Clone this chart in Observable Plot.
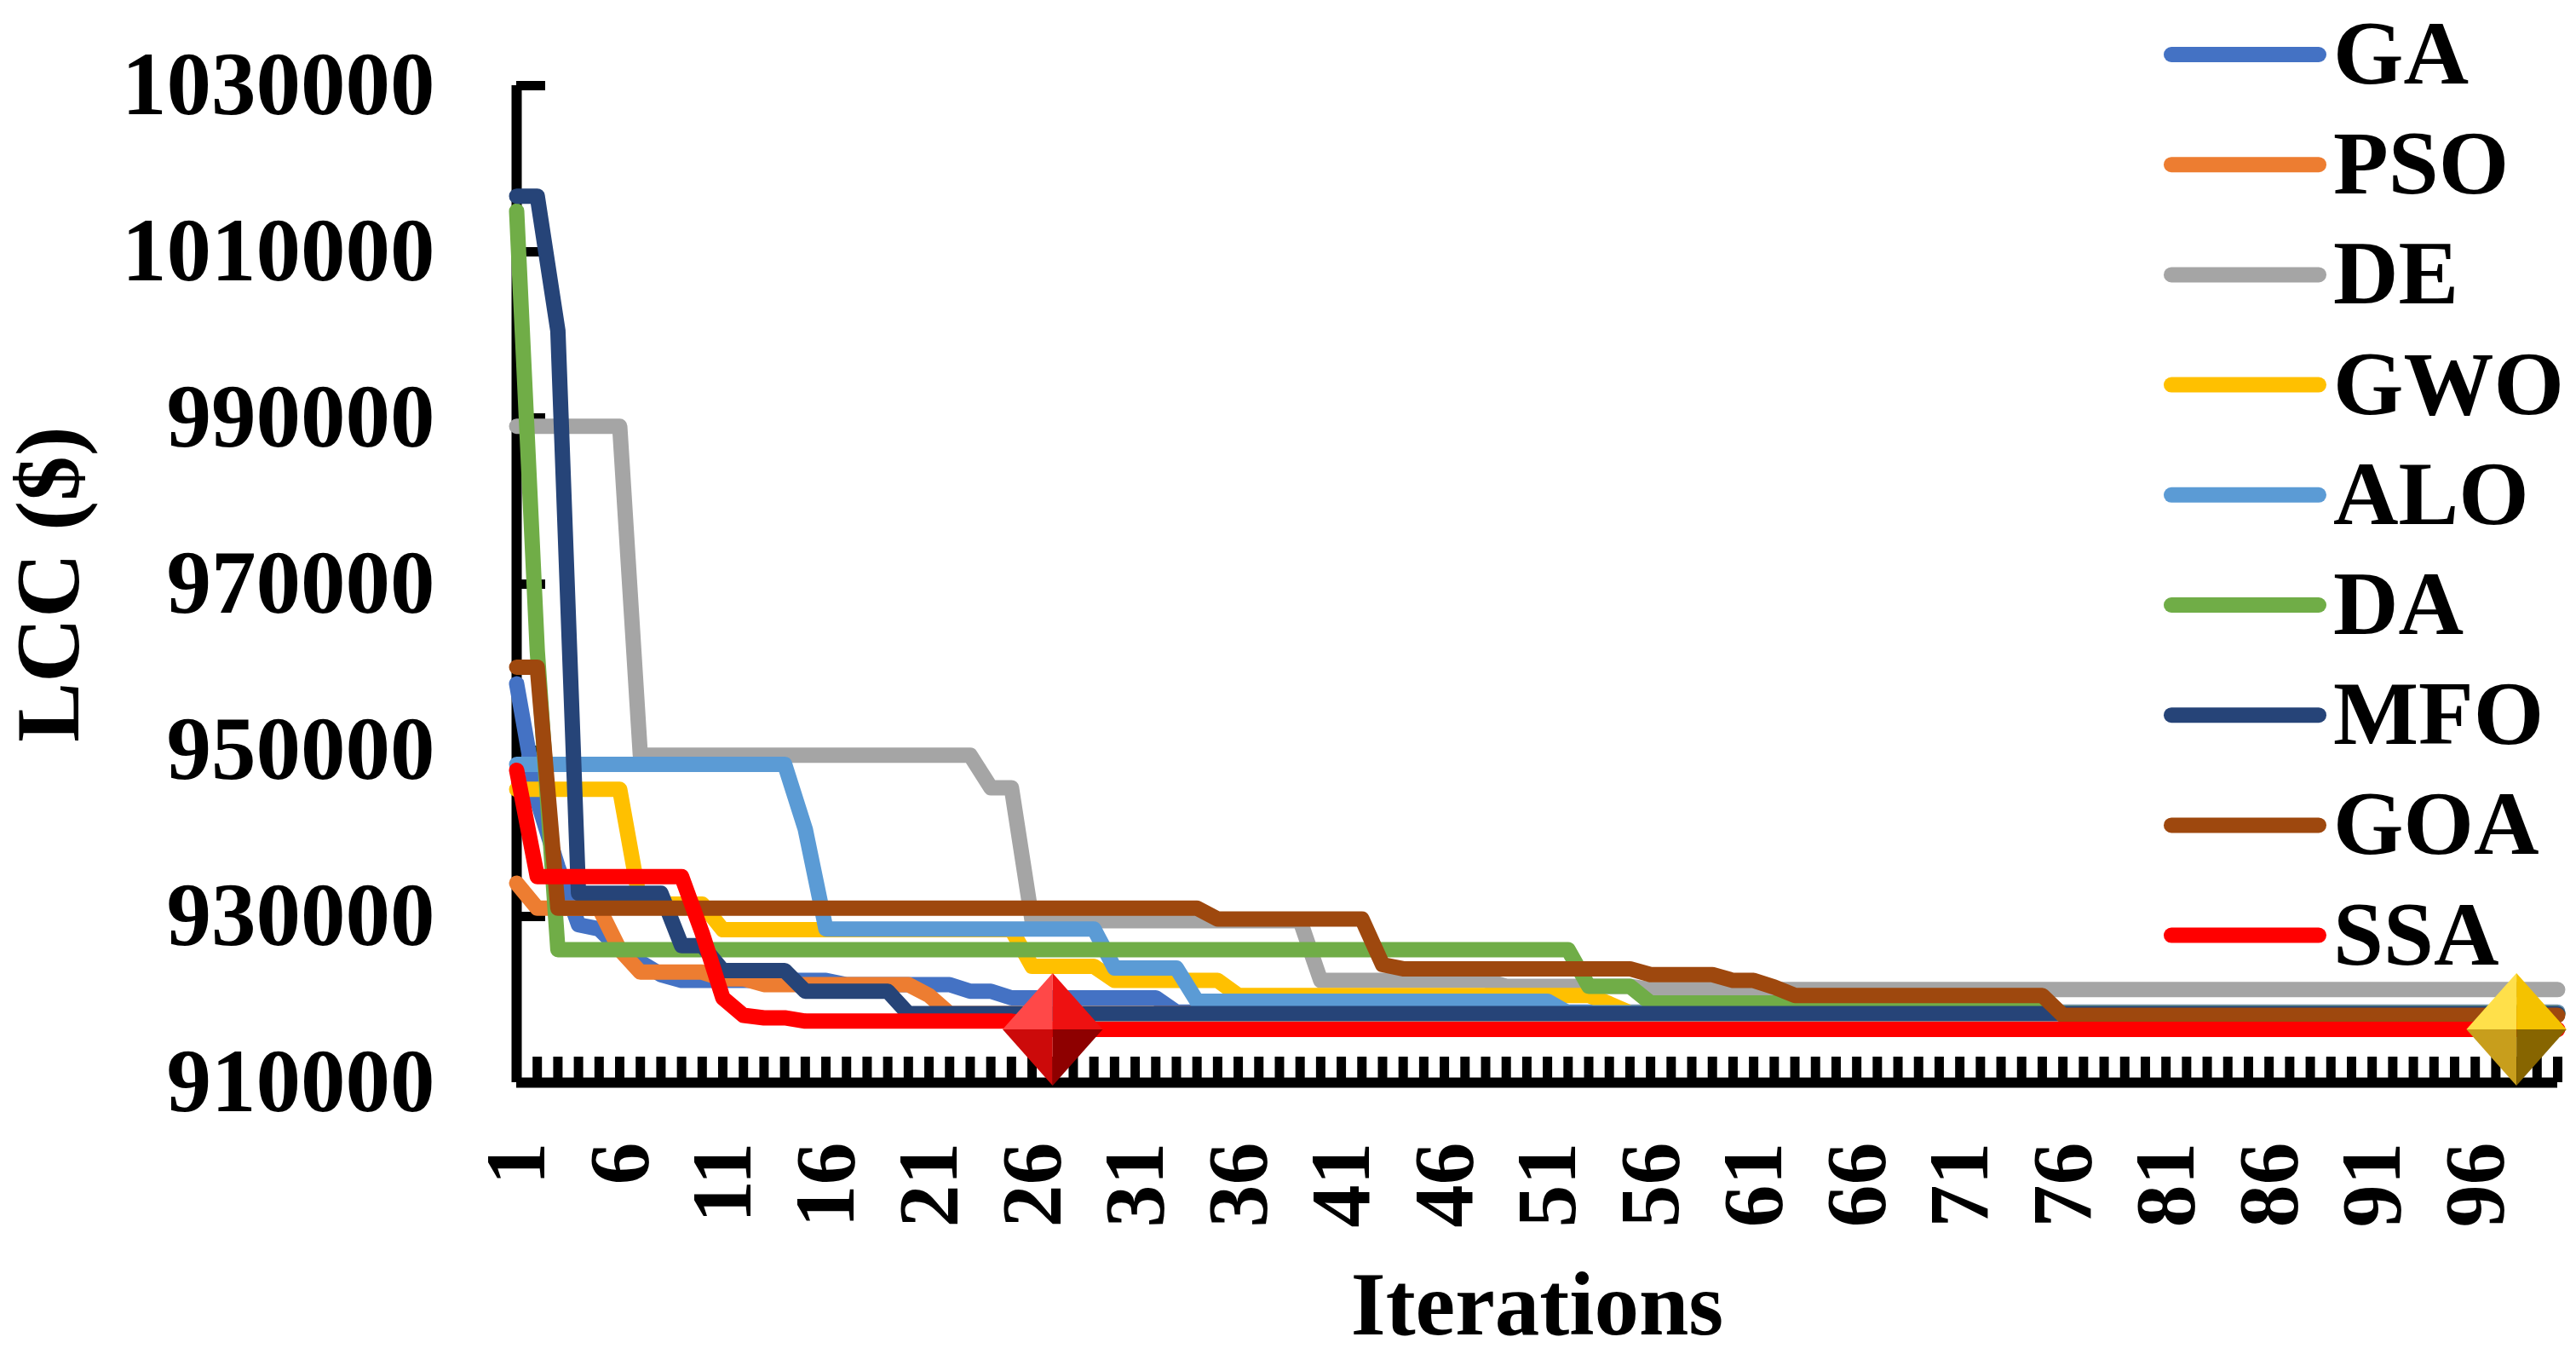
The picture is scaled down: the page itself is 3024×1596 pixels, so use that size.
<!DOCTYPE html>
<html>
<head>
<meta charset="utf-8">
<script src="https://cdn.jsdelivr.net/npm/d3@7"></script>
<script src="https://cdn.jsdelivr.net/npm/@observablehq/plot@0.6"></script>
<style>
html, body { margin: 0; padding: 0; background: #ffffff; }
#chart { position: relative; width: 3024px; height: 1596px; }
</style>
</head>
<body>
<div id="chart"></div>
<script>
// ---------- DATA ----------
const iterations = d3.range(1, 101);
const seriesNames = ["GA", "PSO", "DE", "GWO", "ALO", "DA", "MFO", "GOA", "SSA"];
const seriesColors = ["#4472C4", "#ED7D31", "#A5A5A5", "#FFC000", "#5B9BD5", "#70AD47", "#264478", "#9E480E", "#FF0000"];
const yTicks = [910000, 930000, 950000, 970000, 990000, 1010000, 1030000];
const xTickLabels = [1, 6, 11, 16, 21, 26, 31, 36, 41, 46, 51, 56, 61, 66, 71, 76, 81, 86, 91, 96];

const GA = [
  958000, 944000, 936000, 929000, 928500, 926000, 924500, 923000, 922300, 922300,
  922300, 922300, 922300, 922300, 922300, 922300, 921800, 921800, 921800, 921800,
  921800, 921800, 921000, 921000, 920200, 920200, 920200, 920200, 920200, 920200,
  920200, 920200, 918500, 918500, 918500, 918500, 918500, 918500, 918500, 918500,
  918500, 918500, 918500, 918500, 918500, 918500, 918500, 918500, 918500, 918500,
  918500, 918500, 918500, 918500, 918500, 918500, 918500, 918500, 918500, 918500,
  918500, 918500, 918500, 918500, 918500, 918500, 918500, 918500, 918500, 918500,
  918500, 918500, 918500, 918500, 918500, 918500, 918500, 918500, 918500, 918500,
  918500, 918500, 918500, 918500, 918500, 918500, 918500, 918500, 918500, 918500,
  918500, 918500, 918500, 918500, 918500, 918500, 918500, 918500, 918500, 918500
];
const PSO = [
  934000, 931000, 931000, 931000, 931000, 926000, 923300, 923300, 923300, 923300,
  922500, 922500, 921800, 921800, 921800, 921800, 921800, 921800, 921800, 921800,
  920500, 918300, 918300, 918300, 918300, 918300, 918300, 918300, 918300, 918300,
  918300, 918300, 918300, 918300, 918300, 918300, 918300, 918300, 918300, 918300,
  918300, 918300, 918300, 918300, 918300, 918300, 918300, 918300, 918300, 918300,
  918300, 918300, 918300, 918300, 918300, 918300, 918300, 918300, 918300, 918300,
  918300, 918300, 918300, 918300, 918300, 918300, 918300, 918300, 918300, 918300,
  918300, 918300, 918300, 918300, 918300, 918300, 918300, 918300, 918300, 918300,
  918300, 918300, 918300, 918300, 918300, 918300, 918300, 918300, 918300, 918300,
  918300, 918300, 918300, 918300, 918300, 918300, 918300, 918300, 918300, 918300
];
const DE = [
  989000, 989000, 989000, 989000, 989000, 989000, 949400, 949400, 949400, 949400,
  949400, 949400, 949400, 949400, 949400, 949400, 949400, 949400, 949400, 949400,
  949400, 949400, 949400, 945500, 945500, 929500, 929500, 929500, 929500, 929500,
  929500, 929500, 929500, 929500, 929500, 929500, 929500, 929500, 929500, 922300,
  922300, 922300, 922300, 922300, 922300, 922300, 922300, 922300, 921600, 921600,
  921600, 921600, 921600, 921600, 921600, 921200, 921200, 921200, 921200, 921200,
  921200, 921200, 921200, 921200, 921200, 921200, 921200, 921200, 921200, 921200,
  921200, 921200, 921200, 921200, 921200, 921200, 921200, 921200, 921200, 921200,
  921200, 921200, 921200, 921200, 921200, 921200, 921200, 921200, 921200, 921200,
  921200, 921200, 921200, 921200, 921200, 921200, 921200, 921200, 921200, 921200
];
const GWO = [
  945300, 945300, 945300, 945300, 945300, 945300, 931500, 931500, 931500, 931500,
  928400, 928400, 928400, 928400, 928400, 928400, 928400, 928400, 928400, 928400,
  928400, 928400, 928400, 928400, 928400, 924000, 924000, 924000, 924000, 922300,
  922300, 922300, 922300, 922300, 922300, 920500, 920500, 920500, 920500, 920500,
  920500, 920500, 920500, 920500, 920500, 920500, 920500, 920500, 920500, 920500,
  920500, 920500, 920500, 919500, 918400, 918400, 918400, 918400, 918400, 918400,
  918400, 918400, 918400, 918400, 918400, 918400, 918400, 918400, 918400, 918400,
  918400, 918400, 918400, 918400, 918400, 918400, 918400, 918400, 918400, 918400,
  918400, 918400, 918400, 918400, 918400, 918400, 918400, 918400, 918400, 918400,
  918400, 918400, 918400, 918400, 918400, 918400, 918400, 918400, 918400, 918400
];
const ALO = [
  948300, 948300, 948300, 948300, 948300, 948300, 948300, 948300, 948300, 948300,
  948300, 948300, 948300, 948300, 940500, 928500, 928500, 928500, 928500, 928500,
  928500, 928500, 928500, 928500, 928500, 928500, 928500, 928500, 928500, 923800,
  923800, 923800, 923800, 919800, 919800, 919800, 919800, 919800, 919800, 919800,
  919800, 919800, 919800, 919800, 919800, 919800, 919800, 919800, 919800, 919800,
  919800, 918400, 918400, 918400, 918400, 918400, 918400, 918400, 918400, 918400,
  918400, 918400, 918400, 918400, 918400, 918400, 918400, 918400, 918400, 918400,
  918400, 918400, 918400, 918400, 918400, 918400, 918400, 918400, 918400, 918400,
  918400, 918400, 918400, 918400, 918400, 918400, 918400, 918400, 918400, 918400,
  918400, 918400, 918400, 918400, 918400, 918400, 918400, 918400, 918400, 918400
];
const DA = [
  1014900, 962000, 926000, 926000, 926000, 926000, 926000, 926000, 926000, 926000,
  926000, 926000, 926000, 926000, 926000, 926000, 926000, 926000, 926000, 926000,
  926000, 926000, 926000, 926000, 926000, 926000, 926000, 926000, 926000, 926000,
  926000, 926000, 926000, 926000, 926000, 926000, 926000, 926000, 926000, 926000,
  926000, 926000, 926000, 926000, 926000, 926000, 926000, 926000, 926000, 926000,
  926000, 926000, 921600, 921600, 921600, 919600, 919600, 919600, 919600, 919600,
  919600, 919600, 919600, 919600, 919600, 919600, 919600, 919600, 919600, 919600,
  919600, 919600, 919600, 919600, 919600, 918300, 918300, 918300, 918300, 918300,
  918300, 918300, 918300, 918300, 918300, 918300, 918300, 918300, 918300, 918300,
  918300, 918300, 918300, 918300, 918300, 918300, 918300, 918300, 918300, 918300
];
const MFO = [
  1016700, 1016700, 1000500, 932800, 932800, 932800, 932800, 932800, 926500, 926500,
  923500, 923500, 923500, 923500, 921000, 921000, 921000, 921000, 921000, 918300,
  918300, 918300, 918300, 918300, 918300, 918300, 918300, 918300, 918300, 918300,
  918300, 918300, 918300, 918300, 918300, 918300, 918300, 918300, 918300, 918300,
  918300, 918300, 918300, 918300, 918300, 918300, 918300, 918300, 918300, 918300,
  918300, 918300, 918300, 918300, 918300, 918300, 918300, 918300, 918300, 918300,
  918300, 918300, 918300, 918300, 918300, 918300, 918300, 918300, 918300, 918300,
  918300, 918300, 918300, 918300, 918300, 918300, 918300, 918300, 918300, 918300,
  918300, 918300, 918300, 918300, 918300, 918300, 918300, 918300, 918300, 918300,
  918300, 918300, 918300, 918300, 918300, 918300, 918300, 918300, 918300, 918300
];
const GOA = [
  960000, 960000, 931000, 931000, 931000, 931000, 931000, 931000, 931000, 931000,
  931000, 931000, 931000, 931000, 931000, 931000, 931000, 931000, 931000, 931000,
  931000, 931000, 931000, 931000, 931000, 931000, 931000, 931000, 931000, 931000,
  931000, 931000, 931000, 931000, 929700, 929700, 929700, 929700, 929700, 929700,
  929700, 929700, 924200, 923700, 923700, 923700, 923700, 923700, 923700, 923700,
  923700, 923700, 923700, 923700, 923700, 923000, 923000, 923000, 923000, 922300,
  922300, 921500, 920500, 920500, 920500, 920500, 920500, 920500, 920500, 920500,
  920500, 920500, 920500, 920500, 920500, 918100, 918100, 918100, 918100, 918100,
  918100, 918100, 918100, 918100, 918100, 918100, 918100, 918100, 918100, 918100,
  918100, 918100, 918100, 918100, 918100, 918100, 918100, 918100, 918100, 918100
];
const SSA = [
  947600, 934800, 934800, 934800, 934800, 934800, 934800, 934800, 934800, 928000,
  920200, 918100, 917800, 917800, 917400, 917400, 917400, 917400, 917400, 917400,
  917400, 917400, 917400, 917400, 917400, 917100, 916400, 916400, 916400, 916400,
  916400, 916400, 916400, 916400, 916400, 916400, 916400, 916400, 916400, 916400,
  916400, 916400, 916400, 916400, 916400, 916400, 916400, 916400, 916400, 916400,
  916400, 916400, 916400, 916400, 916400, 916400, 916400, 916400, 916400, 916400,
  916400, 916400, 916400, 916400, 916400, 916400, 916400, 916400, 916400, 916400,
  916400, 916400, 916400, 916400, 916400, 916400, 916400, 916400, 916400, 916400,
  916400, 916400, 916400, 916400, 916400, 916400, 916400, 916400, 916400, 916400,
  916400, 916400, 916400, 916400, 916400, 916400, 916400, 916400, 916400, 916400
];
// highlighted iterations (red and gold diamonds on the SSA curve)
const redMarkerIteration = 27;
const goldMarkerIteration = 98;

// ---------- BUILD TABLES ----------
const seriesValues = [GA, PSO, DE, GWO, ALO, DA, MFO, GOA, SSA];
const rows = seriesNames.flatMap((name, k) =>
  seriesValues[k].map((v, i) => ({ name, it: iterations[i], v }))
);
const redMarker = [{ it: redMarkerIteration, v: SSA[redMarkerIteration - 1] }];
const goldMarker = [{ it: goldMarkerIteration, v: SSA[goldMarkerIteration - 1] }];

// ---------- LAYOUT ----------
const W = 3024, H = 1596;
const mL = 606, mR = 22, mT = 100, mB = 326;
const innerW = W - mL - mR, innerH = H - mT - mB;
const FONT = "'Liberation Serif', 'Times New Roman', serif";

// faceted diamond symbol pieces
const facet = (pts) => ({
  draw(ctx, size) {
    const r = Math.sqrt(size / Math.PI);
    const w = r * 0.89;
    ctx.moveTo(0, 0);
    for (const [a, b] of pts) ctx.lineTo(a * w, b * r);
    ctx.closePath();
  }
});
const TL = facet([[-1, 0], [0, -1]]);
const TR = facet([[0, -1], [1, 0]]);
const BL = facet([[-1, 0], [0, 1]]);
const BR = facet([[1, 0], [0, 1]]);
const diamond = (data, cols) => [
  Plot.dot(data, { x: "it", y: "v", r: 66, symbol: TL, fill: cols[0], stroke: "none" }),
  Plot.dot(data, { x: "it", y: "v", r: 66, symbol: TR, fill: cols[1], stroke: "none" }),
  Plot.dot(data, { x: "it", y: "v", r: 66, symbol: BL, fill: cols[2], stroke: "none" }),
  Plot.dot(data, { x: "it", y: "v", r: 66, symbol: BR, fill: cols[3], stroke: "none" })
];

const chart = Plot.plot({
  width: W,
  height: H,
  marginLeft: mL,
  marginRight: mR,
  marginTop: mT,
  marginBottom: mB,
  style: {
    fontFamily: FONT,
    fontWeight: "bold",
    background: "#ffffff",
    color: "#000000",
    overflow: "visible"
  },
  x: { type: "linear", domain: [1, 100] },
  y: { domain: [910000, 1030000] },
  color: { domain: seriesNames, range: seriesColors },
  marks: [
    // inward major ticks on the value axis
    Plot.ruleY(yTicks, { y: (d) => d, insetRight: innerW - 34, stroke: "#000", strokeWidth: 11 }),
    // category tick marks rising from the baseline
    Plot.ruleX(iterations.slice(1), { x: (d) => d, insetTop: innerH - 30, stroke: "#000", strokeWidth: 11 }),
    // axis lines
    Plot.ruleX([1], { x: (d) => d, stroke: "#000", strokeWidth: 12 }),
    Plot.ruleY([910000], { y: (d) => d, stroke: "#000", strokeWidth: 12 }),
    // series
    Plot.line(rows, {
      x: "it", y: "v", z: "name", stroke: "name",
      strokeWidth: 18, strokeLinejoin: "round", strokeLinecap: "round"
    }),
    ...diamond(redMarker, ["#ff4848", "#ee1111", "#cc0a0a", "#8e0000"]),
    ...diamond(goldMarker, ["#ffe04a", "#f4c200", "#c89e1c", "#876500"]),
    // axes
    Plot.axisY({
      ticks: yTicks, tickSize: 0, tickPadding: 96,
      tickFormat: d3.format("d"), fontSize: 105, label: null
    }),
    Plot.axisX({
      ticks: xTickLabels, tickSize: 0, tickPadding: 70, tickRotate: -90,
      tickFormat: d3.format("d"), fontSize: 100, label: null
    }),
    Plot.text(["LCC ($)"], {
      text: (d) => d, frameAnchor: "left", dx: -548, rotate: -90,
      fontSize: 105, fontWeight: "bold", textAnchor: "middle", lineAnchor: "middle"
    }),
    Plot.text(["Iterations"], {
      text: (d) => d, frameAnchor: "bottom", dy: 262,
      fontSize: 105, fontWeight: "bold", textAnchor: "middle", lineAnchor: "middle"
    })
  ]
});

// ---------- LEGEND (inside the plot, top right) ----------
const svg = d3.select(chart);
const lg = svg.append("g")
  .attr("font-family", FONT)
  .attr("font-weight", "bold")
  .attr("font-size", 106)
  .attr("text-anchor", "start");
seriesNames.forEach((name, k) => {
  const y = 64 + k * 129.2;
  lg.append("line")
    .attr("x1", 2549).attr("x2", 2722).attr("y1", y).attr("y2", y)
    .attr("stroke", seriesColors[k]).attr("stroke-width", 18).attr("stroke-linecap", "round");
  lg.append("text")
    .attr("x", 2739).attr("y", y + 34)
    .attr("text-anchor", "start")
    .attr("fill", "#000")
    .text(name);
});

document.getElementById("chart").appendChild(chart);
</script>
</body>
</html>
